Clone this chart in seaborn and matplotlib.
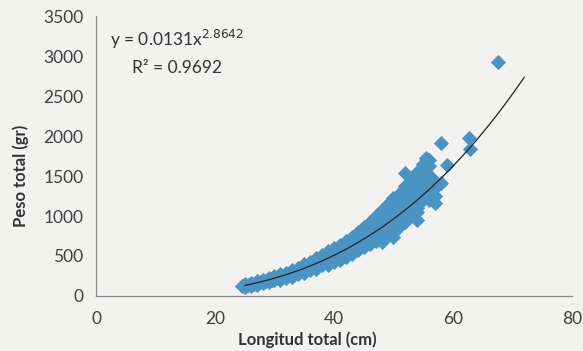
import numpy as np
import pandas as pd
import seaborn as sns
from matplotlib import pyplot as plt

# Longitud total (cm) vs Peso total (gr)
longitud = [24.5, 25, 25, 25.5, 26, 26, 26.5, 27, 27, 27.5, 28, 28, 28.5, 29, 29, 29.5, 30, 30,
            30.5, 31, 31, 31.5, 32, 32, 32.5, 33, 33, 33.5, 34, 34, 34.5, 35, 35, 35.5, 36, 36,
            36.5, 37, 37, 37.5, 38, 38, 38.5, 39, 39, 39.5, 40, 40, 40.5, 41, 41, 41.5, 42, 42,
            42.5, 43, 43, 43.5, 44, 44, 44.5, 45, 45, 45.5, 46, 46, 46.5, 47, 47, 47.5, 48, 48, 48,
            48.5, 49, 49, 49.5, 50, 50, 50, 50.5, 51, 51, 51.5, 52, 52, 52, 52.5, 53, 53, 53.5, 54, 54, 54,
            54.5, 55, 55, 55.5, 55.5, 56, 56, 56.5, 57, 57, 58, 58, 59, 62.7, 62.9, 67.6,
            45, 46, 47, 49, 50, 51, 53, 55, 44, 43, 42, 41, 39, 38, 37, 36, 35, 34, 33, 32, 31, 30,
            29, 28, 27, 26, 25,
            36, 38, 40, 42, 44, 46, 48, 49, 50, 51, 52, 53, 54, 55, 56, 47, 45, 43, 41, 39, 37, 35, 33, 31,
            40, 42, 44, 46, 47, 48, 49, 50, 51, 52, 53, 54, 56, 57, 45, 43, 41, 39, 37, 35, 33, 31]
peso = [125, 110, 150, 140, 130, 165, 150, 140, 185, 170, 160, 200, 185, 175, 220, 205, 195, 245,
        225, 210, 265, 240, 230, 290, 265, 250, 315, 290, 280, 345, 320, 300, 375, 345, 330, 410,
        380, 360, 440, 410, 390, 480, 445, 420, 520, 480, 450, 560, 520, 480, 600, 560, 520, 650,
        600, 560, 700, 650, 600, 760, 700, 640, 820, 760, 680, 880, 820, 720, 950, 880, 760, 1020, 670,
        940, 820, 1080, 1000, 850, 1150, 740, 1060, 920, 1200, 1120, 980, 1280, 1540, 1180, 1050, 1350, 1250, 1100, 1450, 950,
        1320, 1200, 1550, 1400, 1720, 1280, 1620, 1480, 1350, 1160, 1910, 1410, 1640, 1975, 1840, 2925,
        720, 760, 800, 900, 980, 1050, 1150, 1300, 680, 620, 580, 540, 470, 430, 400, 370, 335, 310, 280, 260, 235, 220,
        195, 180, 160, 145, 130,
        430, 510, 600, 690, 800, 920, 1080, 1150, 1220, 1280, 1380, 1450, 1550, 1650, 1700, 1000, 860, 740, 640, 560, 470, 400, 330, 280,
        420, 490, 570, 650, 690, 700, 760, 790, 860, 920, 1000, 1050, 1200, 1250, 610, 530, 455, 390, 335, 285, 240, 200]

# potential trendline as printed on the chart
coef_a = 0.0131
coef_b = 2.8642
trend_x = np.linspace(25, 72, 200)
trend = pd.DataFrame({'x': trend_x, 'y': coef_a * trend_x ** coef_b})

df = pd.DataFrame({'longitud': longitud, 'peso': peso})

sns.set_style('white')
plt.rcParams['font.family'] = ['Lato', 'DejaVu Sans']

bg = '#f2f2f0'
fig = plt.figure(figsize=(5.83, 3.51), dpi=100, facecolor=bg)
ax = fig.add_axes([0.1647, 0.1567, 0.8163, 0.7977], facecolor=bg)

sns.scatterplot(data=df, x='longitud', y='peso', marker='D', s=60, color='#4b93c3',
                linewidth=0, ax=ax, zorder=2)
sns.lineplot(data=trend, x='x', y='y', color='#222222', linewidth=0.9, ax=ax, zorder=3)

ax.set_xlim(0, 80)
ax.set_ylim(0, 3500)
ax.set_xticks([0, 20, 40, 60, 80])
ax.set_yticks(range(0, 3501, 500))

for s in ['top', 'right']:
    ax.spines[s].set_visible(False)
for s in ['left', 'bottom']:
    ax.spines[s].set_color('#8a8a8a')
    ax.spines[s].set_linewidth(0.9)

ax.tick_params(axis='both', direction='out', length=5, width=0.9, color='#8a8a8a',
               labelsize=12.5, labelcolor='#404040', pad=4)
ax.tick_params(axis='x', pad=6)

ax.set_xlabel('Longitud total (cm)', fontsize=12, fontweight='bold', color='#333333')
ax.set_ylabel('Peso total (gr)', fontsize=12, fontweight='bold', color='#333333')
ax.xaxis.set_label_coords(0.445, -0.125)
ax.yaxis.set_label_coords(-0.14, 0.43)

ax.text(0.17, 0.915, r'y = 0.0131x$^{2.8642}$', transform=ax.transAxes, ha='center',
        va='center', fontsize=12.5, color='#333333')
ax.text(0.17, 0.815, 'R² = 0.9692', transform=ax.transAxes, ha='center',
        va='center', fontsize=12.5, color='#333333')

fig.savefig('out.png', dpi=100, facecolor=bg)
